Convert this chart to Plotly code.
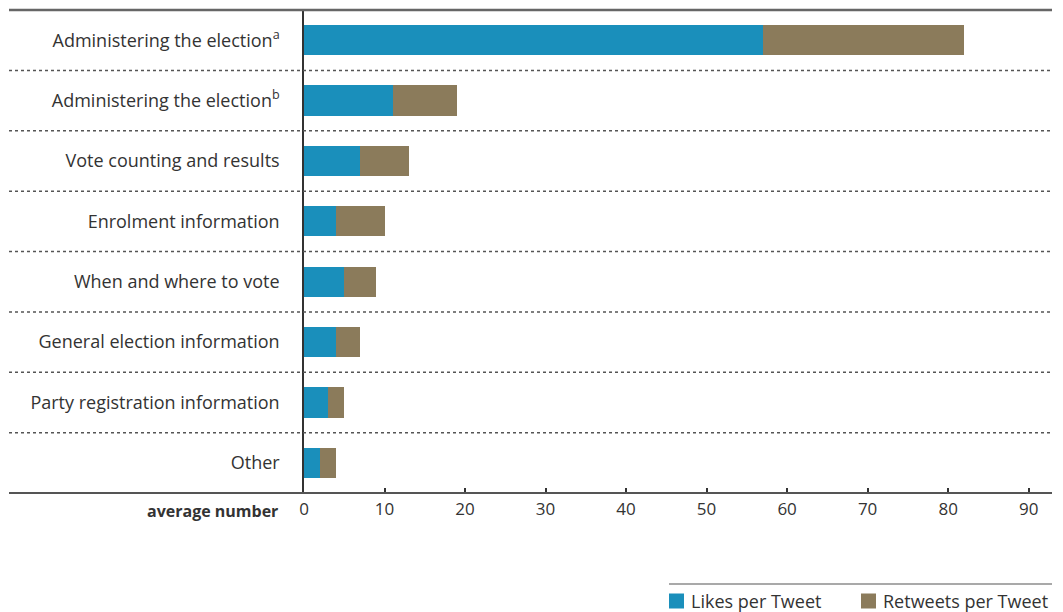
import plotly.graph_objects as go

categories = [
    "Administering the election<sup>a</sup>",
    "Administering the election<sup>b</sup>",
    "Vote counting and results",
    "Enrolment information",
    "When and where to vote",
    "General election information",
    "Party registration information",
    "Other",
]
likes = [57, 11, 7, 4, 5, 4, 3, 2]
retweets = [25, 8, 6, 6, 4, 3, 2, 2]
series_names = ["Likes per Tweet", "Retweets per Tweet"]
colors = ["#1a8fbb", "#8b7b5b"]
x_ticks = [0, 10, 20, 30, 40, 50, 60, 70, 80, 90]

FONT = "Open Sans"
TXT = "#333333"

fig = go.Figure()
for name, vals, col in zip(series_names, [likes, retweets], colors):
    fig.add_trace(go.Bar(y=categories, x=vals, name=name, orientation="h",
                         marker=dict(color=col, line=dict(width=0)), showlegend=False))

OFF = 8  # page body margin
W, H = 1063 - OFF, 612 - OFF
L, R, T, B = 304 - OFF, 11, 10 - OFF, 612 - 493
pw = W - L - R
ph = H - T - B
BOT = T + ph  # bottom of plot in figure px


def px_x(x):
    return (x - OFF - L) / pw


def px_y(y):
    return -((y - OFF) - BOT) / ph


shapes = []
for i in range(len(categories) - 1):
    shapes.append(dict(type="line", xref="paper", yref="y", x0=px_x(9), x1=1,
                       y0=i + 0.5, y1=i + 0.5,
                       line=dict(color="#555555", width=1.5, dash="dot")))
shapes.append(dict(type="line", xref="paper", yref="paper", x0=px_x(9), x1=1, y0=1, y1=1,
                   line=dict(color="#666666", width=2.5)))
shapes.append(dict(type="line", xref="paper", yref="paper", x0=px_x(9), x1=1, y0=0, y1=0,
                   line=dict(color="#555555", width=2)))
shapes.append(dict(type="line", xref="paper", yref="paper", x0=px_x(669), x1=1,
                   y0=px_y(584), y1=px_y(584),
                   line=dict(color="#555555", width=1.2)))

annotations = [dict(text="<b>average number</b>", xref="paper", yref="paper",
                    x=px_x(280), y=px_y(511), xanchor="right",
                    yanchor="middle", showarrow=False,
                    font=dict(family=FONT, size=16, color=TXT))]

leg_items_px = [669, 861]
sq = 15
yc = 601
for name, col, px in zip(series_names, colors, leg_items_px):
    shapes.append(dict(type="rect", xref="paper", yref="paper",
                       x0=px_x(px), x1=px_x(px + sq),
                       y0=px_y(yc + sq / 2), y1=px_y(yc - sq / 2),
                       fillcolor=col, line=dict(width=0)))
    annotations.append(dict(text=name, xref="paper", yref="paper",
                            x=px_x(px + sq + 5), y=px_y(yc),
                            xanchor="left", yanchor="middle", showarrow=False,
                            font=dict(family=FONT, size=18, color=TXT)))

fig.update_layout(
    width=W, height=H,
    margin=dict(l=L, r=R, t=T, b=B),
    barmode="stack", bargap=0.5,
    plot_bgcolor="white", paper_bgcolor="white",
    font=dict(family=FONT, size=18, color=TXT),
    shapes=shapes, annotations=annotations,
    xaxis=dict(range=[0, 92.9], tickvals=x_ticks, showgrid=False, zeroline=False,
               showline=False, ticks="inside", ticklen=5, tickwidth=1.5,
               tickcolor="#333333", tickfont=dict(family=FONT, size=17, color=TXT),
               ticklabelstandoff=4),
    yaxis=dict(autorange="reversed", showgrid=False, zeroline=False,
               showline=True, linecolor="#333333", linewidth=1.5,
               ticks="", tickfont=dict(family=FONT, size=18, color=TXT),
               ticklabelstandoff=19),
)

fig.write_html("out.html")
